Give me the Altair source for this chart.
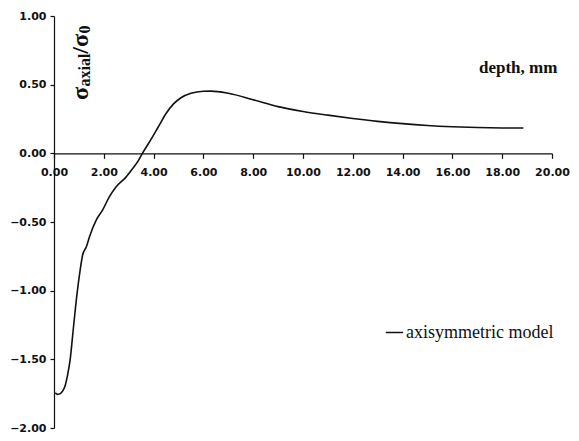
import altair as alt
import pandas as pd

# depth (mm) and normalised axial stress
depth = [0.05, 0.15, 0.25, 0.35, 0.45, 0.55, 0.65, 0.78, 0.92, 1.05, 1.15, 1.30,
         1.44, 1.70, 1.96, 2.22, 2.49, 2.88, 3.14, 3.40, 3.55, 3.79, 4.18, 4.50,
         4.80, 5.10, 5.50, 6.00, 6.30, 7.00, 8.00, 9.00, 10.00, 11.00, 12.00, 13.00,
         14.00, 15.00, 16.00, 17.00, 18.00, 18.85]
stress = [-1.745, -1.755, -1.750, -1.730, -1.690, -1.610, -1.500, -1.270, -1.030,
          -0.850, -0.740, -0.680, -0.600, -0.485, -0.410, -0.317, -0.245, -0.175,
          -0.115, -0.050, 0.000, 0.070, 0.190, 0.290, 0.360, 0.405, 0.437, 0.452,
          0.453, 0.437, 0.390, 0.340, 0.305, 0.278, 0.254, 0.233, 0.216, 0.203,
          0.194, 0.188, 0.185, 0.184]
series_name = "axisymmetric model"

x_ticks = [0, 2, 4, 6, 8, 10, 12, 14, 16, 18, 20]
y_ticks = [-2.0, -1.5, -1.0, -0.5, 0.0, 0.5, 1.0]

W, H = 498, 412
zero_px = H * (1.0 - 0.0) / 3.0

df = pd.DataFrame({"depth": depth, "stress": stress, "series": series_name})

line = alt.Chart(df).mark_line(interpolate="monotone", strokeWidth=1.6).encode(
    x=alt.X("depth:Q", scale=alt.Scale(domain=[0, 20], nice=False),
            axis=alt.Axis(values=x_ticks, format=".2f", title=None, orient="bottom",
                          offset=-(H - zero_px), tickSize=5, labelPadding=8,
                          labelOverlap=False, labelFlush=False, grid=False)),
    y=alt.Y("stress:Q", scale=alt.Scale(domain=[-2, 1], nice=False),
            axis=alt.Axis(values=y_ticks, format=".2f", title=None, tickSize=4,
                          labelPadding=4, labelOverlap=False, labelFlush=False,
                          grid=False)),
    color=alt.Color("series:N", scale=alt.Scale(range=["#111111"]),
                    legend=alt.Legend(orient="none", legendX=331, legendY=307,
                                      title=None, symbolType="stroke",
                                      symbolSize=300, symbolStrokeWidth=1.5,
                                      labelFont="Liberation Serif",
                                      labelFontSize=18, labelColor="#111111",
                                      labelOffset=2, padding=0)),
)

# rotated y-axis label: sigma_axial / sigma_0
big, small = 24, 16
parts = [("σ", big, 0.56, 0), ("axial", small, 2.056, 2), ("/", big, 0.28, 0),
         ("σ", big, 0.56, 0), ("0", small, 0.5, 2)]
bx, y0 = 34, 84
layers = []
ypos = y0
for txt, fs, adv, shift in parts:
    layers.append(
        alt.Chart(pd.DataFrame({"t": [txt]})).mark_text(
            angle=270, align="left", baseline="alphabetic", font="Liberation Serif",
            fontWeight="bold", fontSize=fs, color="#111111"
        ).encode(x=alt.value(bx + shift), y=alt.value(ypos), text="t:N")
    )
    ypos -= adv * fs

depth_label = alt.Chart(pd.DataFrame({"t": ["depth, mm"]})).mark_text(
    align="left", baseline="alphabetic", font="Liberation Serif", fontWeight="bold",
    fontSize=17, color="#111111"
).encode(x=alt.value(425), y=alt.value(57), text="t:N")

chart = alt.layer(line, depth_label, *layers).properties(
    width=W, height=H,
    autosize=alt.AutoSizeParams(type="none"),
    padding={"left": 46, "top": 8, "right": 19, "bottom": 5},
).configure_view(stroke=None).configure_axis(
    domainColor="#111111", tickColor="#111111", domainWidth=1.2, tickWidth=1.2,
    labelFont="DejaVu Sans", labelFontWeight="bold", labelFontSize=11,
    labelColor="#111111"
)

chart.save("out.html", embed_options={"renderer": "svg", "actions": False})
